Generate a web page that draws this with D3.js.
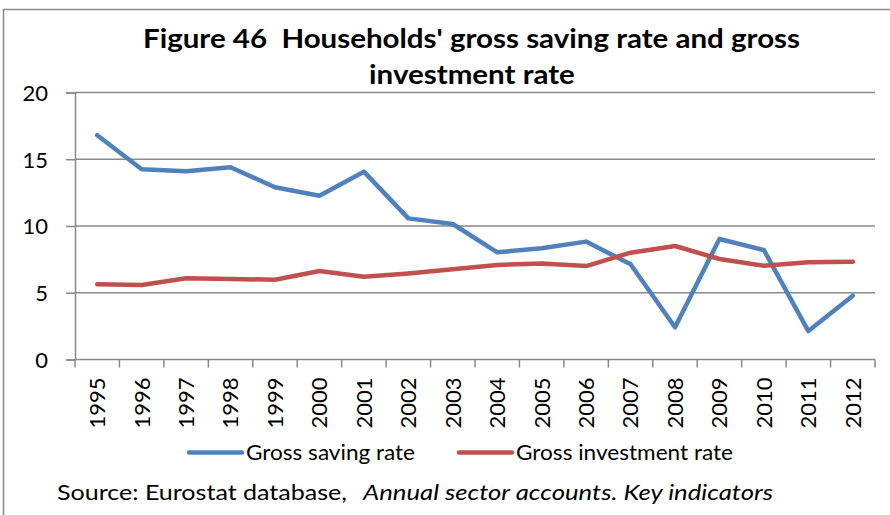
<!DOCTYPE html>
<html>
<head>
<meta charset="utf-8">
<script src="https://cdn.jsdelivr.net/npm/d3@7"></script>
<style>
  html, body { margin: 0; padding: 0; background: #fff; }
  svg { display: block; font-family: Lato, "Open Sans", sans-serif; }
  svg text { white-space: pre; }
</style>
</head>
<body>
<svg id="chart" width="890" height="515"></svg>
<script>
// Household saving and investment rates, 1995-2012 (% of gross disposable income)
const years = ["1995","1996","1997","1998","1999","2000","2001","2002","2003",
               "2004","2005","2006","2007","2008","2009","2010","2011","2012"];
const savingRate = [16.8, 14.25, 14.1, 14.4, 12.9, 12.27, 14.07, 10.57, 10.15,
                    8.03, 8.33, 8.83, 7.13, 2.41, 9.03, 8.2, 2.13, 4.78];
const investmentRate = [5.63, 5.58, 6.08, 6.03, 5.98, 6.63, 6.2, 6.45, 6.76,
                        7.08, 7.2, 7.0, 8.0, 8.5, 7.53, 7.03, 7.28, 7.33];
const yTicks = [0, 5, 10, 15, 20];
const seriesNames = ["Gross saving rate", "Gross investment rate"];
const titleLines = ["Figure 46  Households' gross saving rate and gross", "investment rate"];

const colors = ["#4F81BD", "#C0504D"];
const gridColor = "#898989";

const svg = d3.select("#chart");

// outer chart frame
svg.append("rect")
  .attr("x", 3.5).attr("y", 9.5)
  .attr("width", 900).attr("height", 520)
  .attr("fill", "none").attr("stroke", gridColor).attr("stroke-width", 1.5);

const plot = { left: 75, right: 875, top: 92.5, bottom: 359.5 };

const x = d3.scaleBand().domain(years).range([plot.left, plot.right]);
const y = d3.scaleLinear().domain([0, 20]).range([plot.bottom, plot.top]);

// horizontal gridlines
svg.append("g")
  .selectAll("line").data(yTicks.filter(d => d > 0)).join("line")
  .attr("x1", plot.left).attr("x2", plot.right)
  .attr("y1", d => y(d)).attr("y2", d => y(d))
  .attr("stroke", gridColor).attr("stroke-width", 1.5);

// y axis
const yAxis = svg.append("g")
  .attr("transform", `translate(${plot.left},0)`)
  .call(d3.axisLeft(y).tickValues(yTicks).tickSize(9).tickPadding(18));
yAxis.select(".domain").attr("stroke", gridColor).attr("stroke-width", 1.5);
yAxis.selectAll(".tick line").attr("stroke", gridColor).attr("stroke-width", 1.5);
yAxis.selectAll(".tick text")
  .attr("font-family", "Lato, sans-serif").attr("font-size", 22).attr("fill", "#000")
  .attr("dy", "0.36em");

// x axis: ticks on category boundaries, labels rotated
const xAxisG = svg.append("g").attr("transform", `translate(0,${plot.bottom})`);
xAxisG.append("line")
  .attr("x1", plot.left).attr("x2", plot.right)
  .attr("stroke", gridColor).attr("stroke-width", 1.5);
const boundaries = years.map(d => x(d)).concat([plot.right]);
xAxisG.selectAll("line.tk").data(boundaries).join("line")
  .attr("class", "tk")
  .attr("x1", d => d).attr("x2", d => d)
  .attr("y1", 0).attr("y2", 8)
  .attr("stroke", gridColor).attr("stroke-width", 1.5);
xAxisG.selectAll("text").data(years).join("text")
  .attr("transform", d => `translate(${x(d) + x.bandwidth() / 2},18) rotate(-90)`)
  .attr("text-anchor", "end")
  .attr("dy", "0.36em")
  .attr("font-size", 22)
  .attr("fill", "#000")
  .text(d => d);

// series lines
const line = d3.line()
  .x((d, i) => x(years[i]) + x.bandwidth() / 2)
  .y(d => y(d));

[savingRate, investmentRate].forEach((vals, k) => {
  svg.append("path")
    .datum(vals)
    .attr("d", line)
    .attr("fill", "none")
    .attr("stroke", colors[k])
    .attr("stroke-width", 4.5)
    .attr("stroke-linejoin", "round")
    .attr("stroke-linecap", "round");
});

// title (two centred lines)
const title = svg.append("g").attr("font-weight", "bold").attr("font-size", 27).attr("fill", "#000");
const t1 = title.append("text").attr("x", 471.5).attr("y", 47.5)
  .attr("text-anchor", "middle").text(titleLines[0]);
const t2 = title.append("text").attr("x", 472).attr("y", 84)
  .attr("text-anchor", "middle").text(titleLines[1]);
const w1 = t1.node().getComputedTextLength();
const w2 = t2.node().getComputedTextLength();
const titleScale = 657 / w1;
t1.attr("textLength", 657).attr("lengthAdjust", "spacingAndGlyphs");
t2.attr("textLength", w2 * titleScale).attr("lengthAdjust", "spacingAndGlyphs");

// legend
const legendItems = [
  { name: seriesNames[0], color: colors[0], x0: 187, x1: 244, tx: 246, tw: 169 },
  { name: seriesNames[1], color: colors[1], x0: 457, x1: 514, tx: 516, tw: 217 }
];
const legend = svg.append("g");
legendItems.forEach(it => {
  legend.append("line")
    .attr("x1", it.x0 + 2).attr("x2", it.x1 - 2)
    .attr("y1", 452.5).attr("y2", 452.5)
    .attr("stroke", it.color).attr("stroke-width", 4.5)
    .attr("stroke-linecap", "round");
  legend.append("text")
    .attr("x", it.tx).attr("y", 460)
    .attr("font-size", 21).attr("fill", "#000")
    .attr("textLength", it.tw).attr("lengthAdjust", "spacingAndGlyphs")
    .text(it.name);
});

// source note
const src = svg.append("g").attr("font-size", 21).attr("fill", "#000");
src.append("text").attr("x", 57).attr("y", 500)
  .attr("textLength", 290).attr("lengthAdjust", "spacingAndGlyphs")
  .text("Source: Eurostat database,");
src.append("text").attr("x", 363).attr("y", 500)
  .attr("font-style", "italic")
  .attr("textLength", 410).attr("lengthAdjust", "spacingAndGlyphs")
  .text("Annual sector accounts. Key indicators");
</script>
</body>
</html>
